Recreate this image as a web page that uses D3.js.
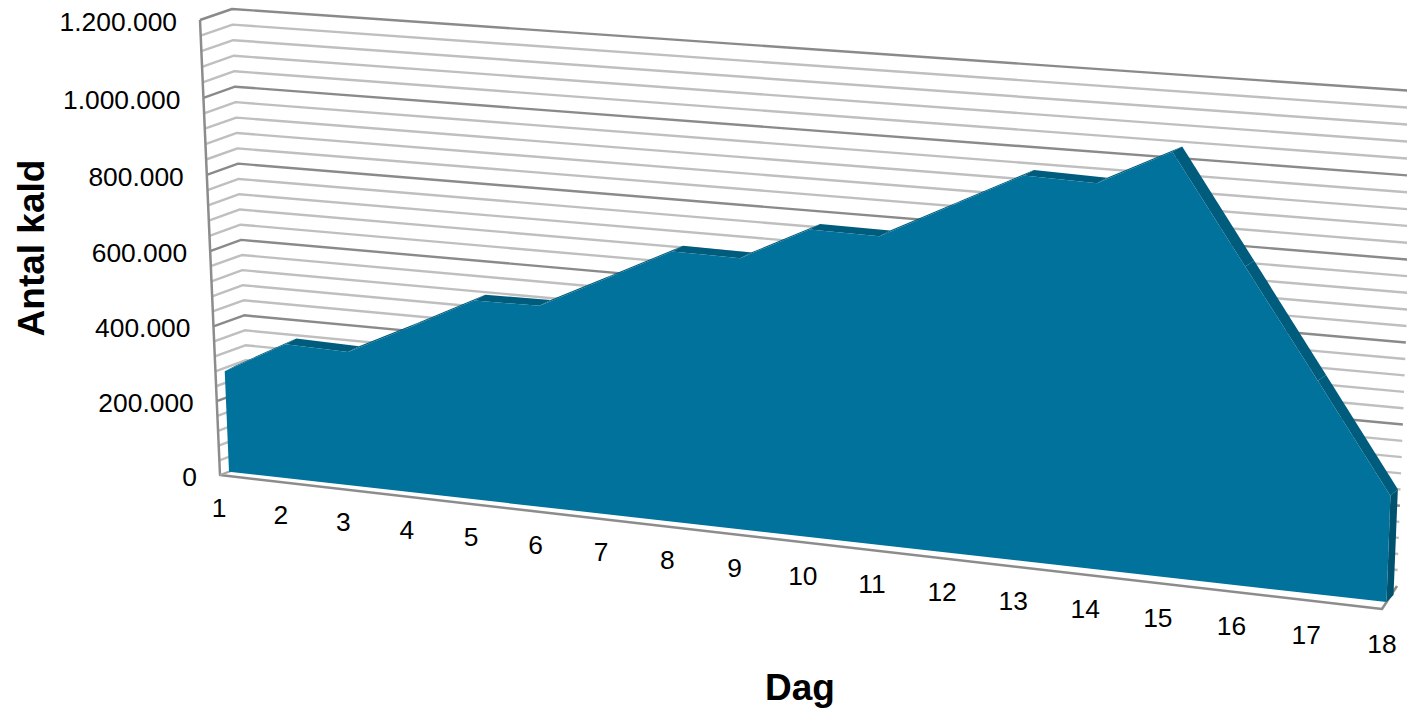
<!DOCTYPE html>
<html><head><meta charset="utf-8">
<script src="https://cdn.jsdelivr.net/npm/d3@7"></script>
<style>html,body{margin:0;padding:0;background:#fff;overflow:hidden}svg{display:block}text{font-family:"Liberation Sans",Arial,sans-serif;fill:#000}</style>
</head><body><svg id="c" width="1407" height="711"></svg>
<script>
const days = d3.range(1,19);
const calls = [271000,360000,356000,438000,523000,525000,609000,694000,692000,778000,776000,864000,952000,947000,1035000,777000,519000,260000];
const yTicks = [0,200000,400000,600000,800000,1000000,1200000];
const minorStep = 40000;
const yTitle = "Antal kald", xTitle = "Dag";
const fmt = d => d3.format(",")(d).replace(/,/g,".");

// projection frame of the 3D box
const frontQuad = [[220,475],[1382,609],[1401,100],[200,20]]; // BL BR TR TL
const backQuad  = [[250,464],[1397,586],[1415,91],[232,9]];
const seriesFrontW = 0.3;
const seriesDepth = [[11,-6],[7,-7],[9,-5],[11,-6]]; // BL BR TR TL shift of the area's back face
function homography(q){
  const [[x0,y0],[x1,y1],[x2,y2],[x3,y3]] = q;
  const dx1=x1-x2,dx2=x3-x2,sx=x0-x1+x2-x3,dy1=y1-y2,dy2=y3-y2,sy=y0-y1+y2-y3;
  const den=dx1*dy2-dx2*dy1;
  const g=(sx*dy2-dx2*sy)/den,h=(dx1*sy-sx*dy1)/den;
  const a=x1-x0+g*x1,b=x3-x0+h*x3,c=x0,d=y1-y0+g*y1,e=y3-y0+h*y3,f=y0;
  return (u,v)=>{const w=g*u+h*v+1;return [(a*u+b*v+c)/w,(d*u+e*v+f)/w];};
}
const Hf=homography(frontQuad),Hb=homography(backQuad);
const xS=d3.scaleLinear().domain([1,18]).range([0,1]);
const yS=d3.scaleLinear().domain([0,1200000]).range([0,1]);
const P=(day,val,w)=>{const a=Hf(xS(day),yS(val)),b=Hb(xS(day),yS(val));return [a[0]+(b[0]-a[0])*w,a[1]+(b[1]-a[1])*w];};
const seriesFront=(day,val)=>P(day,val,seriesFrontW);
const Hs=homography(frontQuad.map((q,i)=>{
  const a=q,b=backQuad[i];
  return [a[0]+(b[0]-a[0])*seriesFrontW+seriesDepth[i][0],a[1]+(b[1]-a[1])*seriesFrontW+seriesDepth[i][1]];
}));
const seriesBack=(day,val)=>Hs(xS(day),yS(val));
const lineGen=d3.line();
const svg=d3.select("#c");

const gridVals=d3.range(0,1200001,minorStep);
const isMajor=v=>v%200000===0;
const gridG=svg.append("g").attr("fill","none").attr("stroke-linejoin","round");
[...gridVals.filter(v=>!isMajor(v)),...gridVals.filter(isMajor)].forEach(v=>{
  if(v===0) return;
  gridG.append("path").attr("d",lineGen([P(1,v,0),P(1,v,1),P(18,v,1)]))
   .attr("stroke",isMajor(v)?"#8a8a8a":"#bfbfbf").attr("stroke-width",2.4);
});
gridG.append("path").attr("d",lineGen([P(1,1200000,0),P(1,0,0),P(18,0,0),P(18,0,1)])).attr("stroke","#8c8c8c").attr("stroke-width",2.5);
gridG.append("path").attr("d",lineGen([P(1,0,0),P(1,0,1)])).attr("stroke","#a6a6a6").attr("stroke-width",2);

const topFaces=svg.append("g").attr("fill","#005c7c");
days.slice(0,-1).forEach((d,i)=>{
  topFaces.append("path").attr("d",lineGen([seriesFront(d,calls[i]),seriesFront(d+1,calls[i+1]),seriesBack(d+1,calls[i+1]),seriesBack(d,calls[i])])+"Z");
});
topFaces.append("path").attr("d",lineGen([seriesFront(18,0),seriesFront(18,calls[17]),seriesBack(18,calls[17]),seriesBack(18,0)])+"Z").attr("fill","#00516d");
const outline=[seriesFront(1,0),...days.map((d,i)=>seriesFront(d,calls[i])),seriesFront(18,0)];
svg.append("path").attr("d",lineGen(outline)+"Z").attr("fill","#00729b");

svg.append("g").selectAll("text").data(yTicks).join("text")
 .attr("x",d=>P(1,d,0)[0]-23).attr("y",d=>P(1,d,0)[1]+11)
 .attr("text-anchor","end").attr("font-size",26.4).text(fmt);
const tickOff=d3.scaleLinear().domain([1,18]).range([33,35]);
const tickNudge=d3.scaleLinear().domain([1,5,14,18]).range([-1,1.5,2,0]);
svg.append("g").selectAll("text").data(days).join("text")
 .attr("x",d=>P(d,0,0)[0]+tickNudge(d)).attr("y",d=>P(d,0,0)[1]+tickOff(d)+9)
 .attr("text-anchor","middle").attr("font-size",26.4).text(d=>d);
svg.append("text").attr("transform","translate(44,248) rotate(-90)").attr("text-anchor","middle")
 .attr("font-size",37).attr("font-weight","bold").text(yTitle);
svg.append("text").attr("x",800).attr("y",700).attr("text-anchor","middle")
 .attr("font-size",37).attr("font-weight","bold").text(xTitle);
</script></body></html>
